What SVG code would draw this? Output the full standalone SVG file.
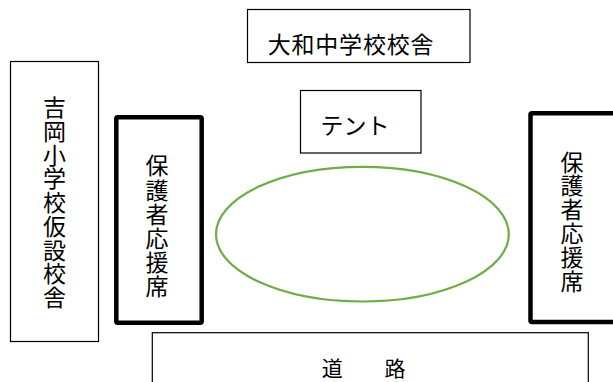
<svg xmlns="http://www.w3.org/2000/svg" width="613" height="382" viewBox="0 0 613 382">
<style>
  .thin{fill:#fff;stroke:#000;stroke-width:1.2}
  .thick{fill:#fff;stroke:#000;stroke-width:4.5;stroke-linejoin:round}
  .t{font-family:"Noto Sans CJK JP","Noto Sans CJK SC",sans-serif;font-size:23px;fill:#000;text-anchor:middle}
  .h{dominant-baseline:central}
  .v{writing-mode:vertical-rl;text-orientation:upright}
</style>
<rect width="613" height="382" fill="#fff"/>
<g id="yamato">
  <rect class="thin" x="247.5" y="9.5" width="222.5" height="53"/>
  <text class="t h" x="351" y="42.5" letter-spacing="0.8">大和中学校校舎</text>
</g>
<g id="tent">
  <rect class="thin" x="300.5" y="90.5" width="120.5" height="62.5"/>
  <text class="t h" x="355" y="124">テント</text>
</g>
<g id="yoshioka">
  <rect class="thin" x="10.5" y="61.5" width="88" height="280"/>
  <text class="t v" x="54.5" y="202.8" letter-spacing="0.75">吉岡小学校仮設校舎</text>
</g>
<g id="seats-left">
  <rect class="thick" x="116.3" y="117.3" width="85.4" height="205.4" rx="1.5"/>
  <text class="t v" x="157" y="226.8" letter-spacing="1.2">保護者応援席</text>
</g>
<g id="field">
  <ellipse cx="362.4" cy="234.2" rx="146.4" ry="67.3" fill="none" stroke="#70AD47" stroke-width="2.2"/>
</g>
<g id="seats-right">
  <rect class="thick" x="530.5" y="113.3" width="90" height="208.7" rx="1.5"/>
  <text class="t v" x="572" y="221.8" letter-spacing="0.8">保護者応援席</text>
</g>
<g id="road">
  <rect class="thin" x="152.3" y="332.7" width="436" height="60"/>
  <text class="t h" style="font-size:21px"><tspan x="332.2" y="366.5">道</tspan><tspan x="395" y="366.5">路</tspan></text>
</g>
<g id="connectors"></g>
</svg>
